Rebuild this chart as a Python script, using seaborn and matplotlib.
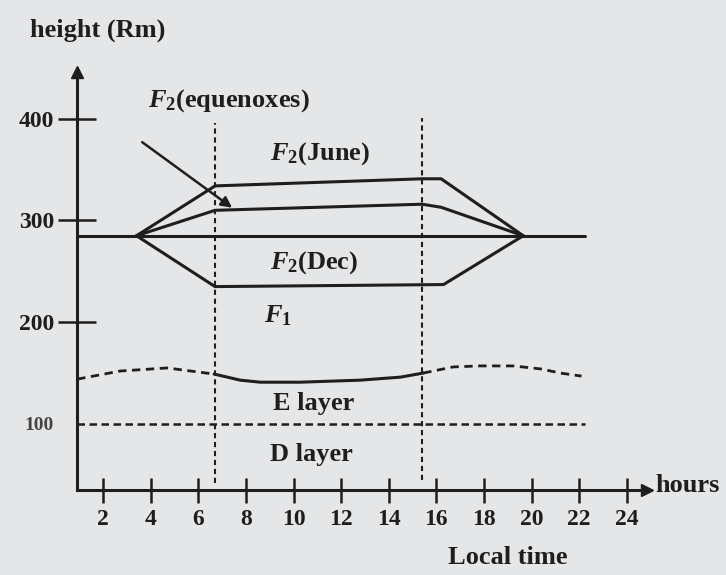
import matplotlib
matplotlib.use("Agg")
import matplotlib.pyplot as plt
import seaborn as sns
import pandas as pd

# ---- data (local time in hours, height in km) ----
night_hours = [0.9, 22.25]
night_height = [285, 285]

june_hours = [3.4, 6.7, 15.4, 16.2, 19.65]
june_height = [285, 334, 341, 341, 285]

equinox_hours = [3.4, 6.7, 15.4, 16.2, 19.65]
equinox_height = [285, 310, 316, 313, 285]

dec_hours = [3.4, 6.7, 16.3, 19.65]
dec_height = [285, 235, 237, 285]

e_night_am_hours = [0.91, 2.72, 4.69, 6.66]
e_night_am_height = [144, 152, 155, 149]
e_day_hours = [6.66, 7.76, 8.6, 10.28, 12.8, 14.5, 15.45]
e_day_height = [149, 143, 141, 141, 143, 146, 150]
e_night_pm_hours = [15.45, 16.7, 17.8, 19.23, 20.4, 21.2, 22.1]
e_night_pm_height = [150, 156, 157, 157, 154, 150, 147]

d_top_hours = [0.9, 22.25]
d_top_height = [100, 100]

sunrise_hour, sunset_hour = 6.7, 15.4

x_ticks = [2, 4, 6, 8, 10, 12, 14, 16, 18, 20, 22, 24]
y_ticks = [100, 200, 300, 400]

# ---- style ----
sns.set_theme(style="white")
plt.rcParams["font.family"] = ["Liberation Serif", "DejaVu Serif"]
plt.rcParams["font.weight"] = "bold"
plt.rcParams["mathtext.fontset"] = "custom"
plt.rcParams["mathtext.rm"] = "Liberation Serif:bold"
plt.rcParams["mathtext.it"] = "Liberation Serif:italic:bold"
plt.rcParams["mathtext.bf"] = "Liberation Serif:bold"

ink = "#1e1e1e"
paper = "#e4e6e8"

fig = plt.figure(figsize=(7.26, 5.75), dpi=100, facecolor=paper)
ax = fig.add_axes([77 / 726, 1 - 490 / 575, (647 - 77) / 726, (490 - 72) / 575])
ax.set_facecolor(paper)

def draw(hours, height, **kw):
    df = pd.DataFrame({"hour": hours, "height": height})
    sns.lineplot(data=df, x="hour", y="height", ax=ax, sort=False,
                 estimator=None, color=ink, **kw)

solid = dict(linewidth=2.2)
draw(night_hours, night_height, **solid)
draw(june_hours, june_height, **solid)
draw(equinox_hours, equinox_height, **solid)
draw(dec_hours, dec_height, **solid)

draw(e_night_am_hours, e_night_am_height, linewidth=2.0, dashes=(3, 2))
draw(e_day_hours, e_day_height, linewidth=2.2)
draw(e_night_pm_hours, e_night_pm_height, linewidth=2.0, dashes=(3, 2))
draw(d_top_hours, d_top_height, linewidth=1.8, dashes=(3, 1.8))

# sunrise / sunset markers
for h, top, bottom in [(sunrise_hour, 396, 42), (sunset_hour, 401, 45)]:
    ax.plot([h, h], [bottom, top], color=ink, linewidth=1.5,
            dashes=(2.5, 1.8))

# pointer to the equinox curve
ax.annotate("", xy=(7.42, 312.5), xytext=(3.64, 377),
            arrowprops=dict(arrowstyle="-|>", color=ink, lw=1.8,
                            mutation_scale=16, shrinkA=0, shrinkB=0))

# layer labels
lab = dict(fontsize=19, color=ink, ha="left", va="baseline")
ax.text(3.9, 412, r"$F_{2}$(equenoxes)", **lab)
ax.text(9.02, 360, r"$F_{2}$(June)", **lab)
ax.text(9.02, 253, r"$F_{2}$(Dec)", **lab)
ax.text(8.77, 200, r"$F_{1}$", **lab)
ax.text(9.14, 114, "E layer", **lab)
ax.text(9.0, 64, "D layer", **lab)

# axes
ax.set_xlim(0.9, 24.85)
ax.set_ylim(35, 446)
ax.set_xticks(x_ticks)
ax.set_yticks(y_ticks)
ax.set_xlabel("")
ax.set_ylabel("")
for s in ["top", "right"]:
    ax.spines[s].set_visible(False)
for s in ["left", "bottom"]:
    ax.spines[s].set_linewidth(2.2)
    ax.spines[s].set_color(ink)

ax.tick_params(axis="x", bottom=True, direction="inout", length=18,
               width=1.8, colors=ink, labelsize=17, pad=5)
ax.tick_params(axis="y", left=True, direction="inout", length=27,
               width=1.8, colors=ink, labelsize=17, pad=3)
ax.yaxis.get_major_ticks()[0].tick1line.set_visible(False)
ax.yaxis.get_major_ticks()[0].label1.set_fontsize(14)
ax.yaxis.get_major_ticks()[0].label1.set_color("#444444")

# axis arrow heads
ax.plot([1], [0], marker=">", markersize=9, color=ink,
        transform=ax.transAxes, clip_on=False)
ax.plot([0], [1], marker="^", markersize=9, color=ink,
        transform=ax.transAxes, clip_on=False)

fig.text(30 / 726, 1 - 30 / 575, "height (Rm)", fontsize=19, color=ink,
         ha="left", va="center")
fig.text(508 / 726, 1 - 558 / 575, "Local time", fontsize=19, color=ink,
         ha="center", va="center")
fig.text(655 / 726, 1 - 485 / 575, "hours", fontsize=19, color=ink,
         ha="left", va="center")

fig.savefig("out.png", dpi=100, facecolor=paper)
